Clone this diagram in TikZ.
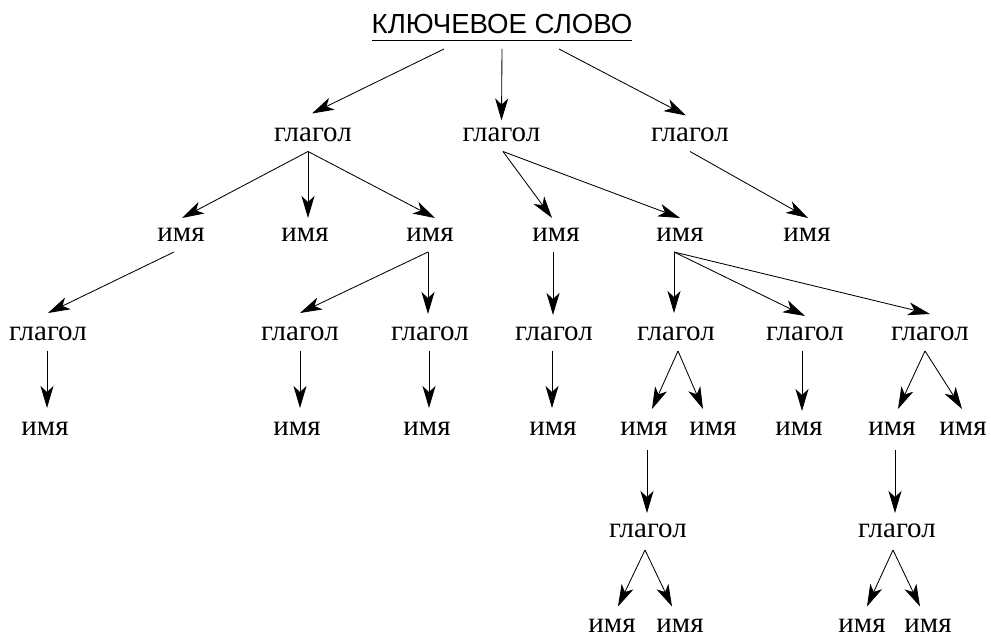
\documentclass[tikz,border=0pt]{standalone}
\usepackage{fontspec}
\setmainfont{Liberation Serif}
\newfontfamily\titlefont{Liberation Sans}
\usetikzlibrary{arrows.meta}
\tikzset{
  w/.style={anchor=base,inner sep=0pt,outer xsep=0pt,outer ysep=10pt,text height=14pt,text depth=0pt,font=\fontsize{29}{32}\selectfont},
  arr/.style={draw,line width=0.85pt,-{Stealth[length=22pt,width=13pt,inset=6pt]}}
}
\begin{document}
\begin{tikzpicture}[x=1pt,y=-1pt]
\useasboundingbox (0,0) rectangle (991,636);
% title
\node[anchor=base,inner sep=0pt,font=\titlefont\fontsize{27.6}{30}\selectfont] (T) at (502,34) {КЛЮЧЕВОЕ СЛОВО};
\draw[line width=0.9pt] ([yshift=-6pt]T.base west) -- ([yshift=-6pt]T.base east);
% level 1
\node[w] (g1) at (313,141.5) {глагол};
\node[w] (g2) at (501.5,141.5) {глагол};
\node[w] (g3) at (690,141.5) {глагол};
% level 2
\node[w] (n1) at (181,242) {имя};
\node[w] (n2) at (305,242) {имя};
\node[w] (n3) at (430,242) {имя};
\node[w] (n4) at (556,242) {имя};
\node[w] (n5) at (680,242) {имя};
\node[w] (n6) at (807,242) {имя};
% level 3
\node[w] (g4) at (48,341) {глагол};
\node[w] (g5) at (300,341) {глагол};
\node[w] (g6) at (430,341) {глагол};
\node[w] (g7) at (554,341) {глагол};
\node[w] (g8) at (676,341) {глагол};
\node[w] (g9) at (805,341) {глагол};
\node[w] (g10) at (930,341) {глагол};
% level 4
\node[w] (n7) at (45,435) {имя};
\node[w] (n8) at (297,435) {имя};
\node[w] (n9) at (427,435) {имя};
\node[w] (n10) at (553,435) {имя};
\node[w] (n11) at (644,435) {имя};
\node[w] (n12) at (713,435) {имя};
\node[w] (n13) at (799,435) {имя};
\node[w] (n14) at (892,435) {имя};
\node[w] (n15) at (963,435) {имя};
% level 5
\node[w] (g11) at (648,537) {глагол};
\node[w] (g12) at (897,537) {глагол};
% level 6
\node[w] (n16) at (612,632.5) {имя};
\node[w] (n17) at (680,632.5) {имя};
\node[w] (n18) at (862,632.5) {имя};
\node[w] (n19) at (928,632.5) {имя};
% connectors
\draw[arr] ([shift={(-58pt,-15pt)}]T.base) -- ([shift={(-1pt,4pt)}]g1.north);
\draw[arr] ([yshift=-15pt]T.base) -- ([yshift=-3pt]g2.north);
\draw[arr] ([shift={(57pt,-15pt)}]T.base) -- ([shift={(-4pt,2pt)}]g3.north);
\draw[arr] ([xshift=-5pt]g1.south) -- ([xshift=1pt]n1.north);
\draw[arr] ([xshift=-5pt]g1.south) -- ([xshift=3pt]n2.north);
\draw[arr] ([xshift=-5pt]g1.south) -- ([xshift=5pt]n3.north);
\draw[arr] ([xshift=1.5pt]g2.south) -- ([xshift=-4pt]n4.north);
\draw[arr] ([xshift=1.5pt]g2.south) -- ([xshift=0pt]n5.north);
\draw[arr] (g3.south) -- ([xshift=1pt]n6.north);
\draw[arr] ([xshift=-7pt]n1.south) -- ([yshift=4pt]g4.north);
\draw[arr] ([xshift=-2pt]n3.south) -- ([yshift=4pt]g5.north);
\draw[arr] ([xshift=-2pt]n3.south) -- ([shift={(-2pt,3pt)}]g6.north);
\draw[arr] ([xshift=-3pt]n4.south) -- ([shift={(-1pt,2pt)}]g7.north);
\draw[arr] ([xshift=-6pt]n5.south) -- ([shift={(-2pt,4pt)}]g8.north);
\draw[arr] ([xshift=-6pt]n5.south) -- ([yshift=1pt]g9.north);
\draw[arr] ([xshift=-6pt]n5.south) -- ([yshift=3pt]g10.north);
\draw[arr] ([xshift=-1pt]g4.south) -- ([shift={(2pt,3pt)}]n7.north);
\draw[arr] (g5.south) -- ([shift={(3pt,3pt)}]n8.north);
\draw[arr] ([xshift=-1pt]g6.south) -- ([shift={(2pt,3pt)}]n9.north);
\draw[arr] ([xshift=-2pt]g7.south) -- ([shift={(-1pt,3pt)}]n10.north);
\draw[arr] ([xshift=2pt]g8.south) -- ([shift={(8pt,2pt)}]n11.north);
\draw[arr] ([xshift=2pt]g8.south) -- ([shift={(-10pt,2pt)}]n12.north);
\draw[arr] ([xshift=-3pt]g9.south) -- ([xshift=3pt]n13.north);
\draw[arr] ([xshift=-5pt]g10.south) -- ([shift={(6pt,2pt)}]n14.north);
\draw[arr] ([xshift=-5pt]g10.south) -- ([shift={(-1pt,2pt)}]n15.north);
\draw[arr] ([shift={(3pt,-5pt)}]n11.south) -- ([xshift=-1pt]g11.north);
\draw[arr] ([shift={(3pt,-5pt)}]n14.south) -- ([xshift=-2pt]g12.north);
\draw[arr] ([shift={(-3pt,-3pt)}]g11.south) -- ([shift={(6pt,2pt)}]n16.north);
\draw[arr] ([shift={(-3pt,-3pt)}]g11.south) -- ([shift={(-8pt,2pt)}]n17.north);
\draw[arr] ([shift={(-4pt,-3pt)}]g12.south) -- ([shift={(5pt,2pt)}]n18.north);
\draw[arr] ([shift={(-4pt,-3pt)}]g12.south) -- ([shift={(-8pt,2pt)}]n19.north);
\end{tikzpicture}
\end{document}
